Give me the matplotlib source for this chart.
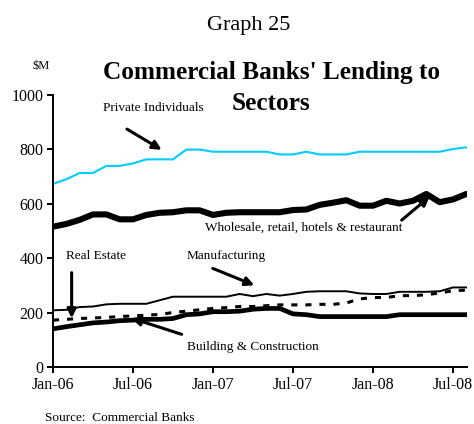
import numpy as np
import pandas as pd
import matplotlib
matplotlib.use("Agg")
import matplotlib.pyplot as plt

plt.rcParams['font.family'] = ['Liberation Serif', 'DejaVu Serif']

# Monthly observations, Jan-2006 to Aug-2008 ($ million)
months = pd.period_range('2006-01', '2008-08', freq='M')
month_labels = [m.strftime('%b-%y') for m in months]

private_individuals = [672, 689, 712, 712, 738, 738, 747, 762, 762, 762,
                       798, 798, 790, 790, 790, 790, 790, 780, 780, 790,
                       780, 780, 780, 790, 790, 790, 790, 790, 790, 790,
                       800, 806]
wholesale_retail = [515, 525, 540, 560, 560, 542, 542, 558, 566, 568,
                    575, 575, 558, 566, 568, 568, 568, 568, 576, 578,
                    595, 603, 612, 592, 592, 610, 600, 610, 635, 605,
                    615, 635]
manufacturing = [208, 210, 220, 222, 230, 232, 232, 232, 245, 258,
                 258, 258, 258, 258, 268, 260, 268, 262, 268, 276,
                 278, 278, 278, 270, 268, 268, 276, 276, 276, 278,
                 292, 292]
real_estate = [172, 175, 178, 180, 182, 185, 188, 190, 193, 200,
               205, 210, 215, 218, 222, 222, 225, 228, 228, 228,
               230, 230, 235, 250, 255, 255, 262, 262, 265, 272,
               280, 282]
building_construction = [140, 148, 155, 162, 165, 170, 172, 175, 175, 178,
                         192, 195, 203, 203, 205, 212, 215, 215, 195, 192,
                         185, 185, 185, 185, 185, 185, 192, 192, 192, 192,
                         192, 192]

y_ticks = [0, 200, 400, 600, 800, 1000]
x_tick_step = 6

x = np.arange(len(months))

fig = plt.figure(figsize=(4.74, 4.24), dpi=100)
ax = fig.add_axes([0.1118, 0.1344, 0.8734, 0.6427])

ax.plot(x, private_individuals, color='#00CCFF', lw=1.5, solid_joinstyle='round')
ax.plot(x, wholesale_retail, color='black', lw=4.4, solid_joinstyle='round',
        solid_capstyle='round')
ax.plot(x, manufacturing, color='black', lw=1.4, solid_joinstyle='round')
ax.plot(x, real_estate, color='black', lw=2.2, dashes=(2.0, 2.6))
ax.plot(x, building_construction, color='black', lw=3.4, solid_joinstyle='round')

ax.set_xlim(0, 31.05)
ax.set_ylim(0, 1000)
ax.set_yticks(y_ticks)
ax.set_yticklabels([str(v) for v in y_ticks])
ax.set_xticks(x[::x_tick_step])
ax.set_xticklabels(month_labels[::x_tick_step])

for side in ('top', 'right'):
    ax.spines[side].set_visible(False)
for side in ('left', 'bottom'):
    ax.spines[side].set_linewidth(1.4)
    ax.spines[side].set_color('black')
ax.tick_params(axis='both', direction='out', length=4, width=1.4,
               labelsize=11.5, colors='black', pad=3)

arrow = dict(arrowstyle='-|>', color='black', lw=2.2, mutation_scale=13,
             shrinkA=0, shrinkB=0)
label_fs = 9.5

ax.text(7.5, 950, 'Private Individuals', ha='center', va='center', fontsize=label_fs)
ax.annotate('', xy=(8.15, 797), xytext=(5.55, 873), arrowprops=arrow)

ax.text(18.8, 510, 'Wholesale, retail, hotels & restaurant', ha='center',
        va='center', fontsize=label_fs)
ax.annotate('', xy=(28.25, 625), xytext=(26.15, 539), arrowprops=arrow)

ax.text(3.2, 407, 'Real Estate', ha='center', va='center', fontsize=label_fs)
ax.annotate('', xy=(1.4, 179), xytext=(1.4, 346), arrowprops=arrow)

ax.text(12.98, 407, 'Manufacturing', ha='center', va='center', fontsize=label_fs)
ax.annotate('', xy=(15.1, 300), xytext=(11.98, 362), arrowprops=arrow)

ax.text(14.96, 75, 'Building & Construction', ha='center', va='center',
        fontsize=label_fs)
ax.annotate('', xy=(5.9, 179), xytext=(9.65, 120), arrowprops=arrow)

fig.text(0.525, 0.941, 'Graph 25', ha='center', va='center', fontsize=16)
fig.text(0.572, 0.828, "Commercial Banks' Lending to", ha='center',
         va='center', fontsize=18.2, fontweight='bold')
fig.text(0.572, 0.755, 'Sectors', ha='center', va='center', fontsize=18.2,
         fontweight='bold')
fig.text(0.0865, 0.844, '$M', ha='center', va='center', fontsize=9)
fig.text(0.095, 0.014, 'Source:  Commercial Banks', ha='left', va='center',
         fontsize=9.5)

fig.savefig('out.png', dpi=100)
